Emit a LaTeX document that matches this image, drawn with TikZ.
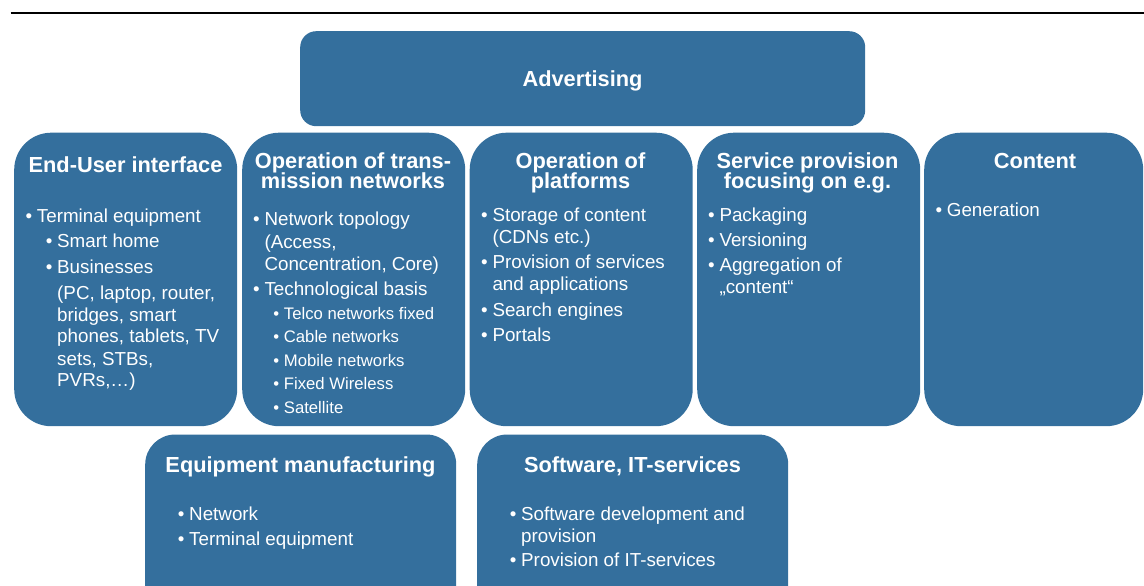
\documentclass[tikz,border=0pt]{standalone}
\usepackage{fontspec}
\setmainfont{Liberation Sans}
\definecolor{boxblue}{RGB}{52,111,157}
\newcommand{\bul}{\makebox[0pt][r]{\textbullet\hspace{4.7pt}}}
\begin{document}
\begin{tikzpicture}[x=1pt,y=-1pt,
  box/.style={fill=boxblue, draw=none, inner sep=0pt, anchor=north west},
  bigbox/.style={box, rounded corners=37pt, minimum width=223pt, minimum height=293.5pt},
  lowbox/.style={box, rounded corners=30pt, minimum width=311pt, minimum height=190pt},
  ttl/.style={text=white, inner sep=0pt, anchor=base, font=\bfseries\fontsize{21.8}{24}\selectfont},
  itm/.style={text=white, inner sep=0pt, anchor=base west, font=\fontsize{18.8}{22}\selectfont},
  sitm/.style={text=white, inner sep=0pt, anchor=base west, font=\fontsize{16.7}{20}\selectfont}]
\useasboundingbox (0,0) rectangle (1144,586);
\clip (0,0) rectangle (1144,586);
% top rule
\coordinate (rl) at (10.7,12.8);
\coordinate (rr) at (1144,12.8);
\draw[line width=1.7pt] (rl) -- (rr);
% Advertising
\node[box, rounded corners=16pt, minimum width=565pt, minimum height=95pt] (adv) at (300,31) {};
\node[ttl] (advt) at (582.5,87) {Advertising};
% row boxes
\node[bigbox] (eu) at (14,132.5) {};
\node[bigbox] (tn) at (242,132.5) {};
\node[bigbox] (pl) at (469.5,132.5) {};
\node[bigbox] (sp) at (697,132.5) {};
\node[bigbox, minimum width=219pt] (co) at (924,132.5) {};
% bottom boxes
\node[lowbox] (em) at (145,434.3) {};
\node[lowbox] (sw) at (477,434.3) {};
% End-user interface
\node[ttl] (eut) at (125.5,172) {End-User interface};
\node[itm] (eu1) at (36.7,222.3) {\bul Terminal equipment};
\node[itm] (eu2) at (57,247.3) {\bul Smart home};
\node[itm] (eu3) at (57,273.3) {\bul Businesses};
\node[itm] (eu4) at (57,299) {(PC, laptop, router,};
\node[itm] (eu5) at (57,321) {bridges, smart};
\node[itm] (eu6) at (57,342.7) {phones, tablets, TV};
\node[itm] (eu7) at (57,365) {sets, STBs,};
\node[itm] (eu8) at (57,386.7) {PVRs,…)};
% Transmission networks
\node[ttl] (tnt1) at (353,168) {Operation of trans-};
\node[ttl] (tnt2) at (353,188.5) {mission networks};
\node[itm] (tn1) at (264.3,225.7) {\bul Network topology};
\node[itm] (tn2) at (264.3,248.3) {(Access,};
\node[itm] (tn3) at (264.3,270.7) {Concentration, Core)};
\node[itm] (tn4) at (264.3,295.7) {\bul Technological basis};
\node[sitm] (tn5) at (283.7,319.3) {\bul Telco networks fixed};
\node[sitm] (tn6) at (283.7,342.7) {\bul Cable networks};
\node[sitm] (tn7) at (283.7,366) {\bul Mobile networks};
\node[sitm] (tn8) at (283.7,389.3) {\bul Fixed Wireless};
\node[sitm] (tn9) at (283.7,413.3) {\bul Satellite};
% Platforms
\node[ttl] (plt1) at (580.5,168) {Operation of};
\node[ttl] (plt2) at (580.5,188.5) {platforms};
\node[itm] (pl1) at (492.3,221) {\bul Storage of content};
\node[itm] (pl2) at (492.3,243.3) {(CDNs etc.)};
\node[itm] (pl3) at (492.3,268.3) {\bul Provision of services};
\node[itm] (pl4) at (492.3,290.7) {and applications};
\node[itm] (pl5) at (492.3,316) {\bul Search engines};
\node[itm] (pl6) at (492.3,341) {\bul Portals};
% Service provision
\node[ttl] (spt1) at (807.5,168) {Service provision};
\node[ttl] (spt2) at (807.5,188.5) {focusing on e.g.};
\node[itm] (sp1) at (719.3,221) {\bul Packaging};
\node[itm] (sp2) at (719.3,246.7) {\bul Versioning};
\node[itm] (sp3) at (719.3,271.7) {\bul Aggregation of};
\node[itm] (sp4) at (719.3,293.3) {„content“};
% Content
\node[ttl] (cot) at (1035,168) {Content};
\node[itm] (co1) at (946.7,216.7) {\bul Generation};
% Equipment manufacturing
\node[ttl] (emt) at (300.5,472) {Equipment manufacturing};
\node[itm] (em1) at (189,520) {\bul Network};
\node[itm] (em2) at (189,545) {\bul Terminal equipment};
% Software
\node[ttl] (swt) at (632.5,472) {Software, IT-services};
\node[itm] (sw1) at (521,520) {\bul Software development and};
\node[itm] (sw2) at (521,542.3) {provision};
\node[itm] (sw3) at (521,566.7) {\bul Provision of IT-services};
\end{tikzpicture}
\end{document}
